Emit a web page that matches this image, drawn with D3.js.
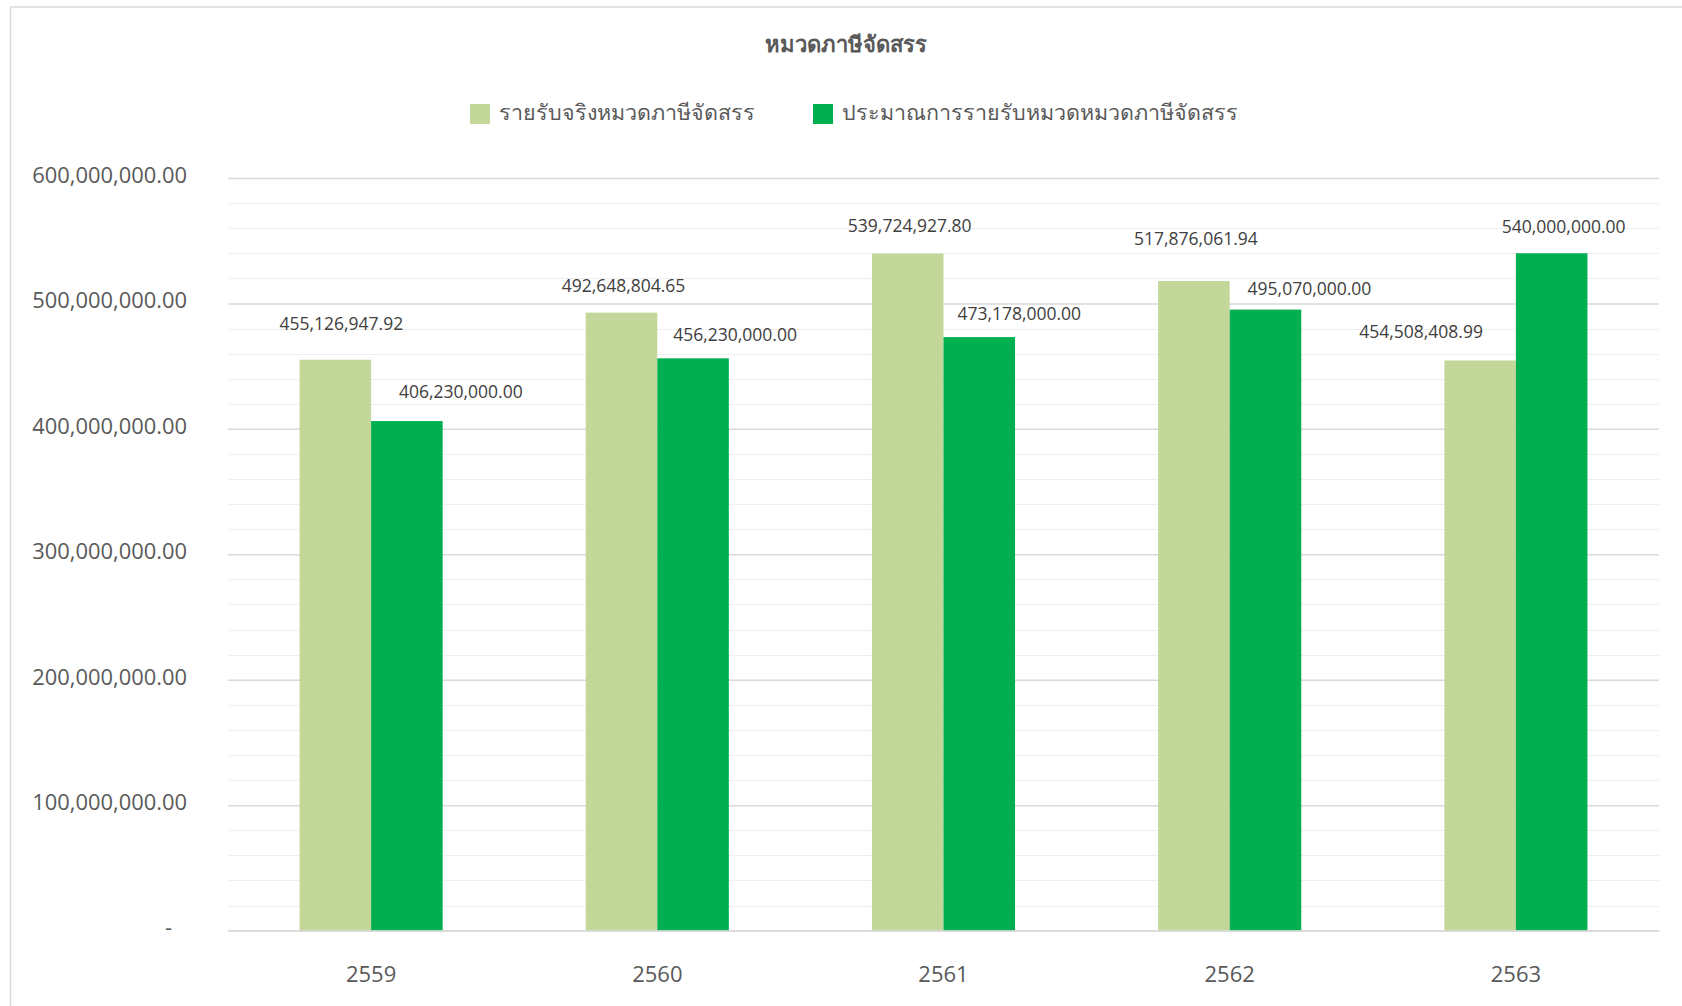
<!DOCTYPE html>
<html>
<head>
<meta charset="utf-8">
<script src="https://cdnjs.cloudflare.com/ajax/libs/d3/7.8.5/d3.min.js"></script>
<style>
  html, body { margin: 0; padding: 0; background: #ffffff; }
  svg { display: block; }
  text { font-family: "Open Sans", "Noto Sans", sans-serif; }
</style>
</head>
<body>
<svg id="chart" width="1682" height="1006"></svg>
<script>
// ---- data ----
const chartTitle = "หมวดภาษีจัดสรร";
const categories = ["2559", "2560", "2561", "2562", "2563"];
const seriesNames = ["รายรับจริงหมวดภาษีจัดสรร", "ประมาณการรายรับหมวดหมวดภาษีจัดสรร"];
const actualValues = [455126947.92, 492648804.65, 539724927.80, 517876061.94, 454508408.99];
const estimateValues = [406230000.00, 456230000.00, 473178000.00, 495070000.00, 540000000.00];
const yTickValues = [0, 100000000, 200000000, 300000000, 400000000, 500000000, 600000000];
// data-label nudges (label placement as in the original, px relative to bar top/centre)
const actualLabelDx = [6, 2, 2, 2, -59];
const actualLabelDy = [-30, -21, -22, -36, -22];
const estimateLabelDx = [54, 42, 40, 44, 12];
const estimateLabelDy = [-23, -17, -17, -15, -20];

// ---- layout ----
const colors = ["#c4d79b", "#00b050"];
const svg = d3.select("#chart");
const plot = { left: 228, right: 1659, top: 178, bottom: 930.6 };

// chart frame
svg.append("rect")
  .attr("x", 10.5).attr("y", 7)
  .attr("width", 1720).attr("height", 1100)
  .attr("fill", "#ffffff").attr("stroke", "#d9d9d9").attr("stroke-width", 1.5);

const y = d3.scaleLinear().domain([0, 600000000]).range([plot.bottom, plot.top]);
const x0 = d3.scaleBand().domain(categories).range([plot.left, plot.right]).padding(0);
const step = x0.step();
const x1 = d3.scaleBand().domain([0, 1]).range([step / 4, step * 3 / 4]).padding(0);

// minor gridlines
const minorTicks = d3.range(0, 600000001, 20000000).filter(v => v % 100000000 !== 0);
svg.append("g").selectAll("line").data(minorTicks).join("line")
  .attr("x1", plot.left).attr("x2", plot.right)
  .attr("y1", d => Math.round(y(d)) + 0.5).attr("y2", d => Math.round(y(d)) + 0.5)
  .attr("stroke", "#efefef").attr("stroke-width", 1.2);

// major gridlines + y axis labels
const yAxis = d3.axisLeft(y)
  .tickValues(yTickValues)
  .tickSize(-(plot.right - plot.left))
  .tickPadding(41)
  .tickFormat(d => d === 0 ? "-" : d3.format(",.2f")(d));
const gy = svg.append("g").attr("transform", `translate(${plot.left},0)`).call(yAxis);
gy.select(".domain").remove();
gy.selectAll(".tick line").attr("stroke", "#d9d9d9").attr("stroke-width", 1.5);
gy.selectAll(".tick text")
  .attr("fill", "#595959")
  .attr("font-size", 21.9)
  .attr("dy", "0.2em")
  .attr("x", d => d === 0 ? -56 : -41);

// bars
const groups = svg.append("g").selectAll("g").data(categories).join("g")
  .attr("transform", d => `translate(${x0(d)},0)`);

const seriesValues = [actualValues, estimateValues];
groups.selectAll("rect")
  .data((d, i) => seriesValues.map((vals, s) => ({ s, v: vals[i] })))
  .join("rect")
  .attr("x", d => x1(d.s))
  .attr("width", x1.bandwidth())
  .attr("y", d => y(d.v))
  .attr("height", d => y(0) - y(d.v))
  .attr("fill", d => colors[d.s]);

// baseline axis
const xAxis = d3.axisBottom(x0).tickSize(0).tickPadding(36);
const gx = svg.append("g").attr("transform", `translate(0,${plot.bottom})`).call(xAxis);
gx.select(".domain").attr("stroke", "#d9d9d9").attr("stroke-width", 1.5);
gx.selectAll(".tick text").attr("fill", "#595959").attr("font-size", 22);

// data labels
const labelSets = [
  { vals: actualValues, dx: actualLabelDx, dy: actualLabelDy, s: 0 },
  { vals: estimateValues, dx: estimateLabelDx, dy: estimateLabelDy, s: 1 }
];
labelSets.forEach(set => {
  svg.append("g").selectAll("text").data(categories).join("text")
    .attr("x", (c, i) => x0(c) + x1(set.s) + x1.bandwidth() / 2 + set.dx[i])
    .attr("y", (c, i) => y(set.vals[i]) + set.dy[i])
    .attr("text-anchor", "middle")
    .attr("fill", "#404040")
    .attr("font-size", 17.5)
    .text((c, i) => d3.format(",.2f")(set.vals[i]));
});

// title
svg.append("text")
  .attr("x", 846).attr("y", 52)
  .attr("text-anchor", "middle")
  .attr("font-size", 22).attr("font-weight", "bold")
  .attr("fill", "#595959")
  .text(chartTitle);

// legend
const legendItems = [
  { name: seriesNames[0], color: colors[0], x: 470 },
  { name: seriesNames[1], color: colors[1], x: 813 }
];
const lg = svg.append("g").selectAll("g").data(legendItems).join("g")
  .attr("transform", d => `translate(${d.x},104)`);
lg.append("rect").attr("width", 20).attr("height", 20).attr("fill", d => d.color);
lg.append("text").attr("x", 29).attr("y", 16)
  .attr("fill", "#595959").attr("font-size", 21.5)
  .text(d => d.name);
</script>
</body>
</html>
